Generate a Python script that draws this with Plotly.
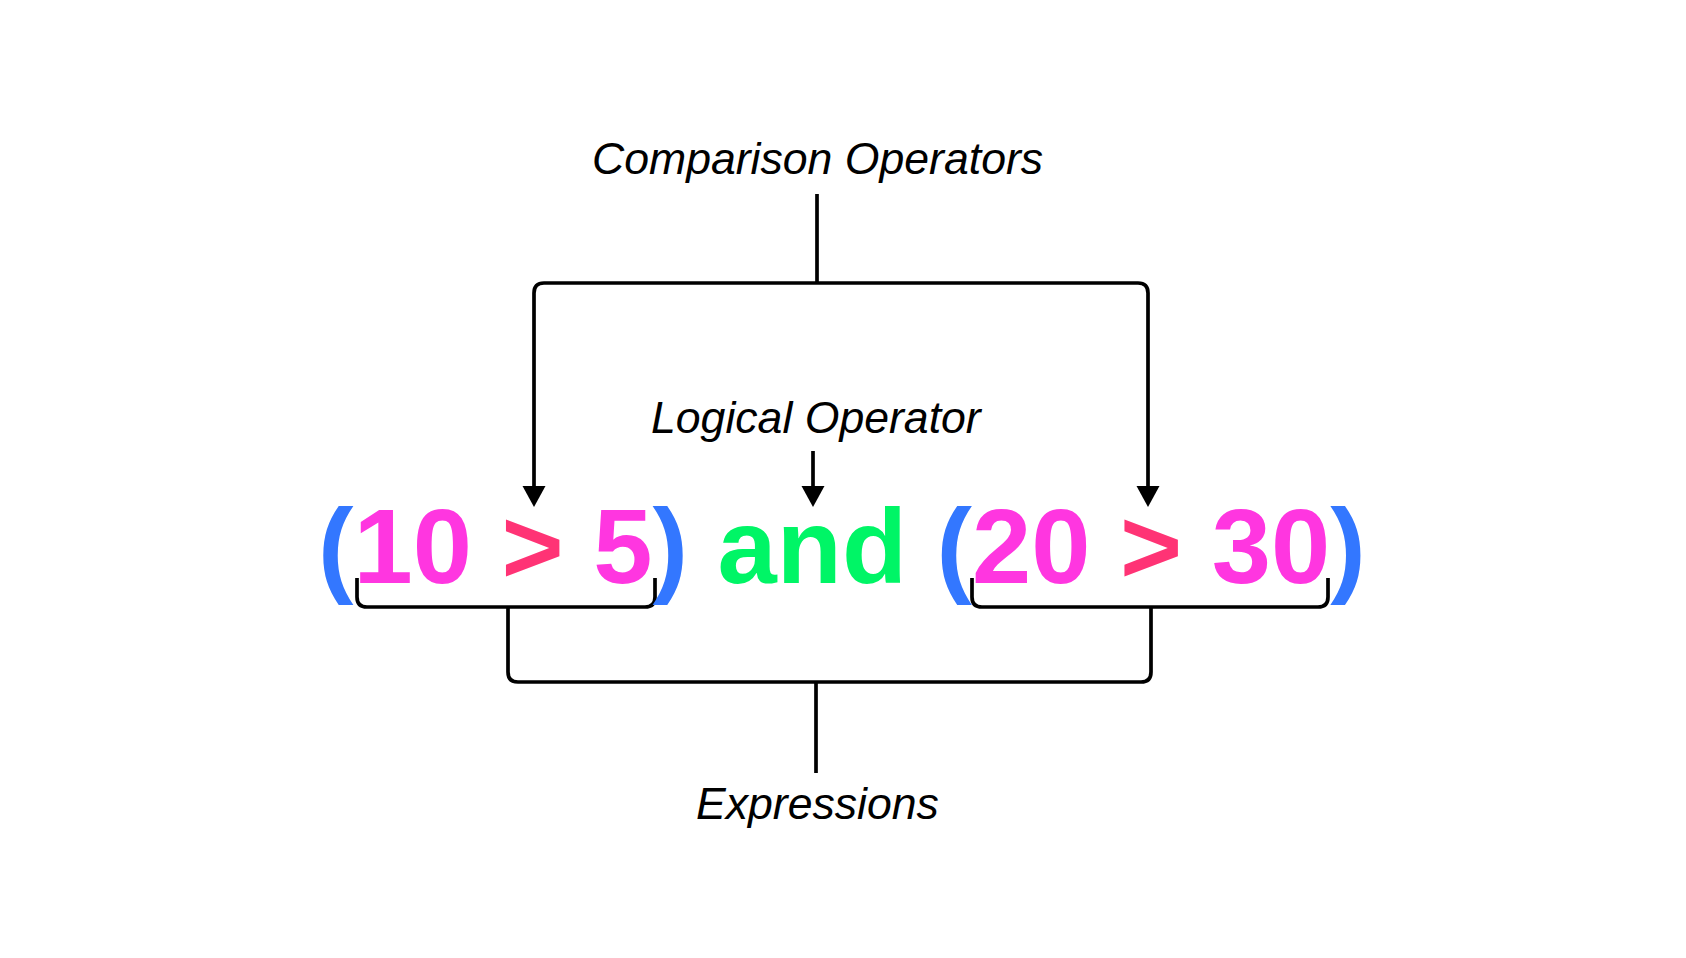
import plotly.graph_objs as go

# diagram text
expr_tokens = ["(", "10", " > ", "5", ")", " and ", "(", "20", " > ", "30", ")"]
token_kinds = ["paren", "num", "cmp", "num", "paren", "logic", "paren", "num", "cmp", "num", "paren"]
comparison_label = "Comparison Operators"
logical_label = "Logical Operator"
expressions_label = "Expressions"

W, H = 1686, 958
OFF = 8  # nudge whole drawing up/left
colors = {"paren": "#3377FF", "num": "#FF36E0", "cmp": "#FF3375", "logic": "#00F566"}
LINE = dict(color="black", width=3.7)


def rounded_u(x0, x1, ytop, ybot, r=10, up=False):
    # open bracket path: verticals at x0/x1, joined with rounded corners
    if up:
        # horizontal at top, legs going down
        return (f"M {x0} {ybot} L {x0} {ytop + r} Q {x0} {ytop} {x0 + r} {ytop} "
                f"L {x1 - r} {ytop} Q {x1} {ytop} {x1} {ytop + r} L {x1} {ybot}")
    return (f"M {x0} {ytop} L {x0} {ybot - r} Q {x0} {ybot} {x0 + r} {ybot} "
            f"L {x1 - r} {ybot} Q {x1} {ybot} {x1} {ybot - r} L {x1} {ytop}")


def arrow_head(x, ytip, w=23, h=21):
    return f"M {x - w / 2} {ytip - h} L {x + w / 2} {ytip - h} L {x} {ytip} Z"


fig = go.Figure()
fig.add_trace(go.Scatter(x=[0, W], y=[0, H], mode="markers", marker=dict(opacity=0),
                         hoverinfo="skip", showlegend=False))

shapes = []
# comparison operators connector
shapes.append(dict(type="line", x0=817, x1=817, y0=194, y1=283, line=LINE))
shapes.append(dict(type="path", path=rounded_u(534, 1148, 283, 490, up=True), line=LINE))
for ax in [534, 1148]:
    shapes.append(dict(type="path", path=arrow_head(ax, 507), fillcolor="black", line=dict(width=0)))
# logical operator arrow
shapes.append(dict(type="line", x0=813, x1=813, y0=451, y1=490, line=LINE))
shapes.append(dict(type="path", path=arrow_head(813, 507), fillcolor="black", line=dict(width=0)))
# expression braces
shapes.append(dict(type="path", path=rounded_u(357, 655, 578, 607), line=LINE))
shapes.append(dict(type="path", path=rounded_u(972, 1328, 578, 607), line=LINE))
shapes.append(dict(type="path", path=rounded_u(508, 1151, 607, 682), line=LINE))
shapes.append(dict(type="line", x0=816, x1=816, y0=682, y1=773, line=LINE))

expr_html = "".join(f'<span style="color:{colors[k]}">{t}</span>' for t, k in zip(expr_tokens, token_kinds))

lbl_font = dict(size=44.6, family="Liberation Sans, Arial", color="black")
annotations = [
    dict(x=842, y=546, text=f"<b>{expr_html}</b>", font=dict(size=106.5, family="Liberation Sans, Arial")),
    dict(x=817, y=158, text=f"<i>{comparison_label}</i>", font=lbl_font),
    dict(x=817, y=417, text=f"<i>{logical_label}</i>", font=lbl_font),
    dict(x=817, y=803, text=f"<i>{expressions_label}</i>", font=lbl_font),
]
for a in annotations:
    a.update(xref="x", yref="y", showarrow=False, xanchor="center", yanchor="middle")

fig.update_layout(
    width=W, height=H,
    margin=dict(l=0, r=0, t=0, b=0),
    paper_bgcolor="white", plot_bgcolor="white",
    xaxis=dict(range=[OFF, W + OFF], visible=False, fixedrange=True),
    yaxis=dict(range=[H + OFF, OFF], visible=False, fixedrange=True),
    shapes=shapes, annotations=annotations,
    showlegend=False,
)
fig.write_html("out.html")
